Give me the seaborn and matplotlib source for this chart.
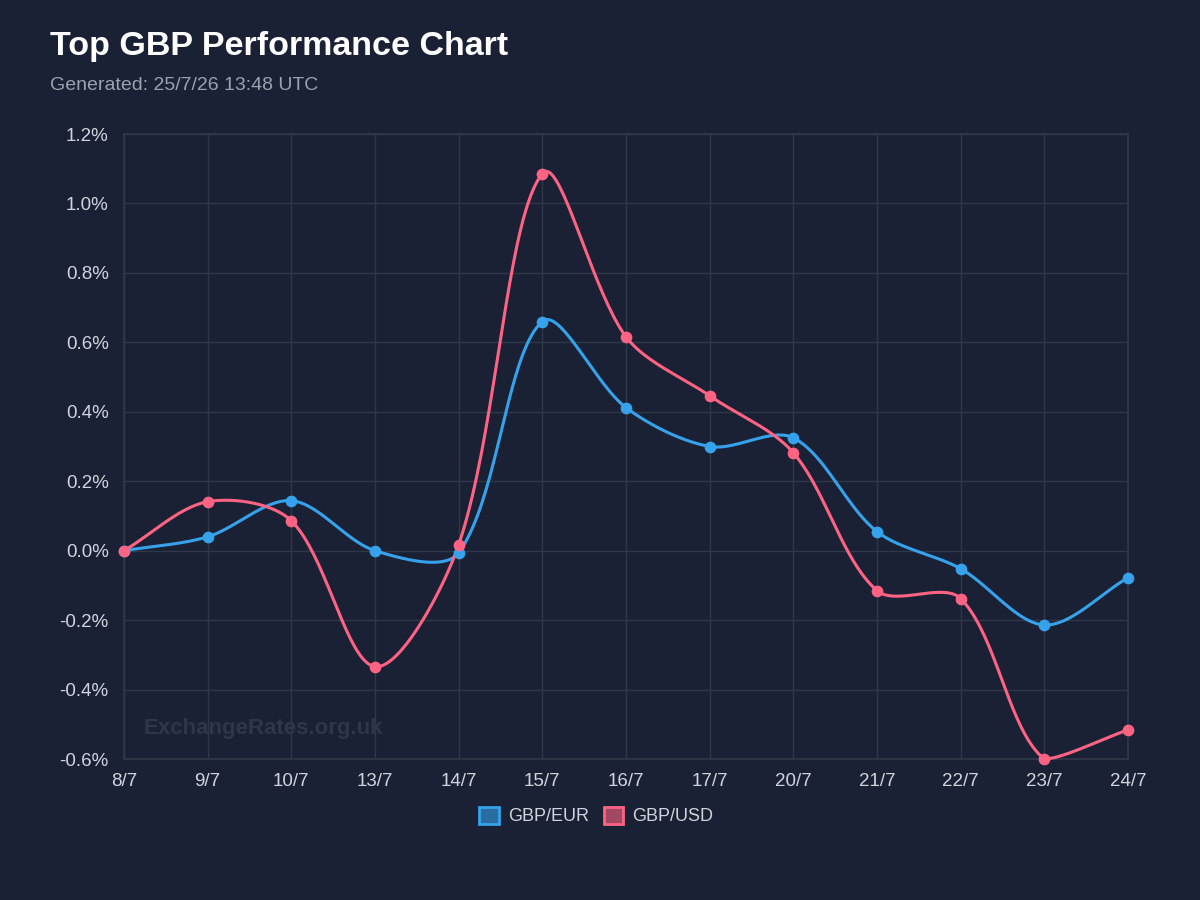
import numpy as np
import pandas as pd
import matplotlib.pyplot as plt
import seaborn as sns
from matplotlib.patches import Patch

dates = ['8/7', '9/7', '10/7', '13/7', '14/7', '15/7', '16/7', '17/7', '20/7', '21/7', '22/7', '23/7', '24/7']
gbp_eur = [0.0, 0.040, 0.144, 0.0, -0.006, 0.660, 0.412, 0.300, 0.325, 0.055, -0.052, -0.214, -0.078]
gbp_usd = [0.0, 0.141, 0.086, -0.334, 0.017, 1.086, 0.616, 0.446, 0.282, -0.115, -0.138, -0.600, -0.516]

bg = '#1a2134'
grid_c = '#2f3849'
text_c = '#d0d4dc'
eur_c = '#36a2eb'
usd_c = '#ff6384'
y_lo, y_hi = -0.6, 1.2

sns.set_theme(style='dark')
plt.rcParams['font.family'] = ['Liberation Sans', 'DejaVu Sans']

# pixel scale used for chart.js style spline control points
SX, SY = 83.67, 347.2


def smooth(ys, tension=0.32, n=40):
    xs = np.arange(len(ys), dtype=float)
    px = xs * SX
    py = np.array(ys) * SY
    cp_prev = []
    cp_next = []
    for i in range(len(px)):
        a = max(i - 1, 0)
        b = min(i + 1, len(px) - 1)
        d01 = np.hypot(px[i] - px[a], py[i] - py[a])
        d12 = np.hypot(px[b] - px[i], py[b] - py[i])
        tot = d01 + d12
        s01 = d01 / tot if tot else 0
        s12 = d12 / tot if tot else 0
        fa, fb = tension * s01, tension * s12
        cp_prev.append([px[i] - fa * (px[b] - px[a]), py[i] - fa * (py[b] - py[a])])
        cp_next.append([px[i] + fb * (px[b] - px[a]), py[i] + fb * (py[b] - py[a])])
    # keep control points inside the chart area
    for cp in cp_prev + cp_next:
        cp[0] = min(max(cp[0], 0), px[-1])
        cp[1] = min(max(cp[1], y_lo * SY), y_hi * SY)
    out_x, out_y = [], []
    t = np.linspace(0, 1, n)
    for i in range(len(px) - 1):
        p0 = np.array([px[i], py[i]])
        p1 = np.array(cp_next[i])
        p2 = np.array(cp_prev[i + 1])
        p3 = np.array([px[i + 1], py[i + 1]])
        pts = ((1 - t)[:, None] ** 3 * p0 + 3 * ((1 - t) ** 2 * t)[:, None] * p1
               + 3 * ((1 - t) * t ** 2)[:, None] * p2 + (t ** 3)[:, None] * p3)
        out_x.extend(pts[:, 0] / SX)
        out_y.extend(pts[:, 1] / SY)
    return out_x, out_y


fig = plt.figure(figsize=(12, 9), dpi=100, facecolor=bg)
ax = fig.add_axes([124 / 1200, 1 - 759 / 900, (1128 - 124) / 1200, (759 - 134) / 900])
ax.set_facecolor(bg)

for name, vals, col in [('GBP/EUR', gbp_eur, eur_c), ('GBP/USD', gbp_usd, usd_c)]:
    cx, cy = smooth(vals)
    curve = pd.DataFrame({'x': cx, 'y': cy})
    sns.lineplot(data=curve, x='x', y='y', sort=False, estimator=None, color=col, lw=2.2, ax=ax,
                 zorder=3, clip_on=False)
    pts = pd.DataFrame({'x': np.arange(len(vals)), 'y': vals})
    sns.scatterplot(data=pts, x='x', y='y', color=col, s=55, edgecolor=col, linewidth=1, ax=ax,
                    zorder=4, clip_on=False)

ax.set_xlim(0, len(dates) - 1)
ax.set_ylim(y_lo, y_hi)
ax.set_xticks(range(len(dates)))
ax.set_xticklabels(dates)
yt = np.round(np.arange(-0.6, 1.21, 0.2), 1)
ax.set_yticks(yt)
ax.set_yticklabels([f'{v:.1f}%' for v in yt])
ax.set_xlabel('')
ax.set_ylabel('')
ax.grid(True, color=grid_c, lw=1)
ax.tick_params(colors=text_c, labelsize=13.5, length=7, color=grid_c, pad=3, width=1)
ax.tick_params(axis='y', pad=5, length=6)
ax.tick_params(axis='x', pad=3)
for s in ax.spines.values():
    s.set_color(grid_c)

ax.text(0.019, 0.04, 'ExchangeRates.org.uk', transform=ax.transAxes, fontsize=16,
        fontweight='bold', color='#2e3749', zorder=1)

fig.text(50 / 1200, 1 - 46 / 900, 'Top GBP Performance Chart', fontsize=24.5, fontweight='bold',
         color='white', va='center')
fig.text(50 / 1200, 1 - 85 / 900, 'Generated: 25/7/26 13:48 UTC', fontsize=14, color='#9aa2b1', va='center')

handles = [Patch(facecolor=eur_c + '99', edgecolor=eur_c, lw=2, label='GBP/EUR'),
           Patch(facecolor=usd_c + '99', edgecolor=usd_c, lw=2, label='GBP/USD')]
fig.legend(handles=handles, loc='center', bbox_to_anchor=(0.497, 1 - 816 / 900), ncol=2, frameon=False,
           fontsize=13, labelcolor=text_c, handlelength=1.1, handleheight=1.1, handletextpad=0.5,
           columnspacing=0.8)

fig.savefig('out.png', dpi=100, facecolor=bg)
